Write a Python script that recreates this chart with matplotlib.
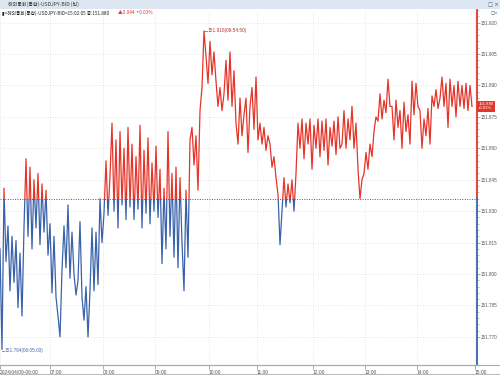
import matplotlib
matplotlib.use("Agg")
import matplotlib.pyplot as plt
from matplotlib.patches import Rectangle
from matplotlib.lines import Line2D

# USDJPY bid ticks, 2024/04/09 06:00 - 15:02
prices = [
    # 06:00 - 07:00
    151.812, 151.764, 151.841,
    151.806, 151.823, 151.792, 151.818, 151.796,
    151.816, 151.784, 151.810, 151.780,
    151.822, 151.855,
    151.818, 151.851, 151.812, 151.845, 151.822, 151.848, 151.814, 151.843, 151.820,
    151.840, 151.809,
    # 07:00 - 08:00
    151.824, 151.791, 151.818,
    151.789, 151.780, 151.770,
    151.802, 151.823,
    151.803, 151.833, 151.798, 151.820,
    151.800, 151.790, 151.797,
    151.825, 151.789,
    151.778, 151.794, 151.770, 151.792,
    151.822, 151.792, 151.820, 151.795,
    # 08:00 - 09:00
    151.836, 151.815, 151.829,
    151.854, 151.828, 151.847,
    151.872, 151.830, 151.864, 151.822, 151.868, 151.833, 151.860, 151.826, 151.870, 151.832,
    151.862, 151.826, 151.856, 151.831, 151.871, 151.822, 151.859, 151.829, 151.865, 151.824,
    151.853, 151.830, 151.861, 151.827, 151.850,
    # 09:00 - 10:00
    151.805, 151.841,
    151.812, 151.868, 151.818, 151.848, 151.808,
    151.851, 151.803, 151.846, 151.815,
    151.792, 151.840,
    151.808, 151.864,
    151.870, 151.852, 151.866, 151.840,
    151.878, 151.889,
    151.916,
    151.904, 151.891, 151.911, 151.895, 151.906,
    # 10:00 - 11:00
    151.892, 151.880, 151.889, 151.878, 151.886,
    151.902, 151.883, 151.906, 151.880, 151.897,
    151.872, 151.862, 151.884, 151.866, 151.876,
    151.884, 151.858, 151.880,
    151.889, 151.869, 151.894, 151.864,
    # 11:00 - 12:00
    151.872, 151.862, 151.870, 151.859, 151.866,
    151.862, 151.851, 151.856, 151.846,
    151.838, 151.814, 151.830,
    151.846, 151.832, 151.843, 151.834,
    151.845, 151.830, 151.848,
    151.872,
    # 12:00 - 13:00
    151.860, 151.874, 151.855, 151.872, 151.862, 151.874, 151.850, 151.871, 151.860, 151.874,
    151.856, 151.873, 151.859, 151.874, 151.852, 151.870, 151.861, 151.873, 151.857, 151.875,
    151.860,
    151.862, 151.878, 151.860, 151.874, 151.864, 151.880, 151.860, 151.872,
    151.850, 151.836, 151.845,
    # 13:00 - 14:00
    151.848, 151.858, 151.850, 151.862, 151.856,
    151.868, 151.875, 151.873,
    151.886, 151.874, 151.883, 151.877, 151.893, 151.880,
    151.880, 151.864, 151.883, 151.870, 151.878, 151.860, 151.882, 151.868, 151.876, 151.862,
    151.892, 151.876, 151.891, 151.880,
    # 14:00 - 15:02
    151.878, 151.860, 151.874, 151.866, 151.879, 151.862,
    151.885, 151.880, 151.888, 151.879, 151.884,
    151.894, 151.880, 151.891, 151.870, 151.893, 151.880, 151.890, 151.875, 151.892, 151.880,
    151.890, 151.879, 151.891, 151.878, 151.890, 151.880,
]

base_price = 151.836      # previous close
last_price = 151.880
high_price, high_time = 151.916, "09:54:50"
low_price, low_time = 151.764, "06:05:00"

time_labels = ["2024/04/09-06:00", "07:00", "08:00", "09:00", "10:00",
               "11:00", "12:00", "13:00", "14:00", "15:00"]
time_label_pos = [0, 25, 51.5, 77.5, 104.5, 128.5, 156.5, 182.5, 208.5, 237.5]
price_ticks = [151.770, 151.785, 151.800, 151.815, 151.830, 151.845,
               151.860, 151.875, 151.890, 151.905, 151.920]

RED = "#e5352a"
BLUE = "#3a62aa"
KR = ["Noto Sans CJK KR", "DejaVu Sans"]
NUM = "Liberation Sans"

fig = plt.figure(figsize=(5, 3.75), dpi=100)
ax = fig.add_axes([0, 10 / 375, 477 / 500, 355 / 375])

x = list(range(len(prices)))
xmax = 238.5
ax.set_xlim(0, xmax)
ax.set_ylim(151.7566, 151.926)

# line split at the previous close: red above, blue below
up, = ax.plot(x, prices, color=RED, lw=0.9)
dn, = ax.plot(x, prices, color=BLUE, lw=0.9)
up.set_clip_path(Rectangle((0, base_price), xmax, 1, transform=ax.transData))
dn.set_clip_path(Rectangle((0, base_price - 1), xmax, 1, transform=ax.transData))

ax.axhline(base_price, color="#555555", lw=0.7, ls=(0, (1, 1.5)))

# grid
ax.set_yticks(price_ticks)
ax.set_yticklabels([f"{p:.3f}" for p in price_ticks], family=NUM)
ax.set_xticks(time_label_pos)
ax.set_xticklabels(time_labels, ha="left", family=NUM)
ax.grid(True, color="#dcdcdc", lw=0.6, ls=(0, (1, 2)))
ax.set_axisbelow(True)

ax.yaxis.tick_right()
ax.tick_params(axis="y", length=2, width=0.5, colors="#888888", labelsize=3.3,
               labelcolor="#555555", pad=1)
ax.tick_params(axis="x", length=3, width=0.5, colors="#888888", labelsize=3.5,
               labelcolor="#555555", pad=0.5)
ax.set_yticks([151.770 + 0.003 * k for k in range(53)], minor=True)
ax.tick_params(axis="y", which="minor", length=1.2, width=0.4, colors="#999999")

for s in ["left", "top", "right"]:
    ax.spines[s].set_visible(False)
ax.spines["bottom"].set_color("#aaaaaa")
ax.spines["bottom"].set_linewidth(0.8)

# right axis line coloured by side of previous close
frac = (base_price - 151.7566) / (151.926 - 151.7566)
ax.axvline(xmax, ymin=frac, ymax=1, color=RED, lw=1.3, clip_on=False)
ax.axvline(xmax, ymin=0, ymax=frac, color=BLUE, lw=1.3, clip_on=False)

# high / low markers
ih = prices.index(high_price)
il = prices.index(low_price)
ax.plot([ih, ih + 1.5], [high_price, high_price], color="#b03a2e", lw=0.5)
ax.text(ih + 1.8, high_price, f"{high_price:.3f}({high_time})", fontsize=3.4,
        family=NUM, color="#b03a2e", va="center", ha="left")
ax.plot([il, il + 1.0], [low_price - 0.0005, low_price - 0.0005], color=BLUE, lw=0.5)
ax.text(il + 1.4, low_price - 0.0006, f"{low_price:.3f}({low_time})", fontsize=3.4,
        family=NUM, color="#4a6aa8", va="center", ha="left")

# current price box
ax.text(xmax + 0.6, last_price, f"{last_price:.3f}\n+0.03%", fontsize=3.1,
        family=NUM, color="white", va="center", ha="left", linespacing=1.0,
        clip_on=False, bbox=dict(facecolor=RED, edgecolor="none", pad=1.0))

# header
fig.patches.append(Rectangle((0, 1 - 9 / 375), 1, 9 / 375, transform=fig.transFigure,
                             facecolor="#dde7f1", edgecolor="none"))
fig.text(8 / 500, 1 - 4.5 / 375, "해외통화(통합)-USDJPY-BID (틱)", fontsize=3.6,
         family=KR, color="#333333", va="center")
fig.text(488 / 500, 1 - 4.5 / 375, "□ ×", fontsize=3.6, family="DejaVu Sans",
         color="#445566", va="center")
fig.text(2 / 500, 1 - 13 / 375, "▮<해외통화(통합)-USDJPY-BID>15:02:05 종:151.880",
         fontsize=3.4, family=KR, color="#222222", va="center")
fig.text(118 / 500, 1 - 13 / 375, "▲0.044  +0.03%", fontsize=3.4, family=KR,
         color=RED, va="center")
fig.text(491 / 500, 1 - 13 / 375, "□×", fontsize=3.2, family="DejaVu Sans",
         color="#445566", va="center")

# bottom border
fig.add_artist(Line2D([0, 1], [10 / 375, 10 / 375], color="#aaaaaa", lw=0.8))
fig.add_artist(Line2D([0, 1], [1.5 / 375, 1.5 / 375], color="#bbbbbb", lw=0.8))

fig.savefig("out.png", dpi=100)
